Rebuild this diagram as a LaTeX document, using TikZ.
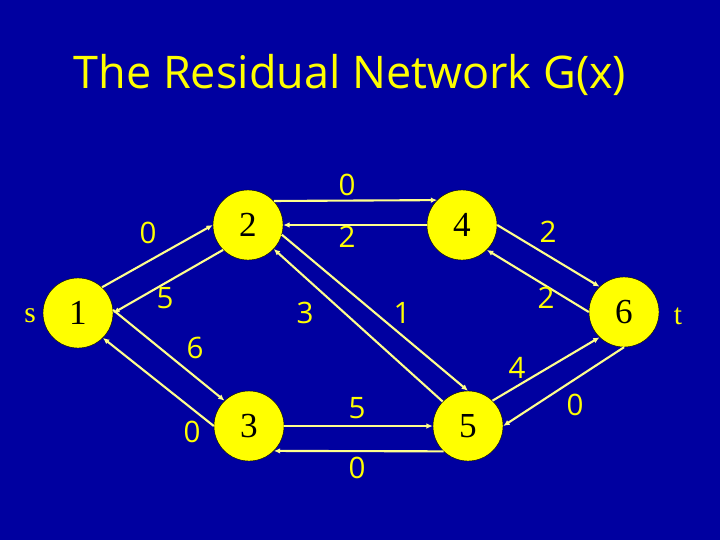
\documentclass[tikz,border=0pt]{standalone}
\usepackage{fontspec}
\setmainfont{Liberation Serif}
\newfontfamily\labelfont{Open Sans}
\usetikzlibrary{arrows.meta}
\definecolor{slideblue}{RGB}{0,0,160}
\definecolor{nodeyellow}{RGB}{255,255,0}
\definecolor{edgeyellow}{RGB}{255,255,140}
\begin{document}
\begin{tikzpicture}[x=0.025cm, y=-0.025cm,
  vertex/.style={circle, fill=nodeyellow, draw=black, line width=0.3pt, minimum size=1.75cm, inner sep=0pt, font=\fontsize{25}{25}\selectfont},
  capval/.style={text=nodeyellow, font=\labelfont\fontsize{21}{21}\selectfont},
  arc/.style={draw=edgeyellow, line width=1.5pt, -{Latex[length=4.5pt,width=4pt]}}]
% background
\fill[slideblue] (0,0) rectangle (720,540);
% title
\node[text=nodeyellow, font=\labelfont\fontsize{32}{32}\selectfont] (title) at (350,75) {The Residual Network G(x)};
% vertices
\node[vertex] (n1) at (78,313) {1};
\node[vertex] (n2) at (248,225) {2};
\node[vertex] (n4) at (462,225) {4};
\node[vertex] (n6) at (624,312) {6};
\node[vertex] (n3) at (249,426) {3};
\node[vertex] (n5) at (468,426) {5};
\node[text=nodeyellow, font=\fontsize{21}{21}\selectfont] (s) at (30,316) {s};
\node[text=nodeyellow, font=\fontsize{21}{21}\selectfont] (t) at (678,316) {t};
% residual arcs
\draw[arc] (n1.47) -- (n2.180);
\draw[arc] (n2.225) -- (n1.0);
\draw[arc] (n1.5) -- (n3.134);
\draw[arc] (n3.180) -- (n1.315);
\draw[arc] (n2.43) -- (n4.135);
\draw[arc] (n4.180) -- (n2.0);
\draw[arc] (n2.344) -- (n5.90);
\draw[arc] (n5.136) -- (n2.317);
\draw[arc] (n4.0) -- (n6.134);
\draw[arc] (n6.180) -- (n4.315);
\draw[arc] (n3.0) -- (n5.180);
\draw[arc] (n5.226) -- (n3.315);
\draw[arc] (n5.46) -- (n6.226);
\draw[arc] (n6.270) -- (n5.0);
% residual capacities
\node[capval] (c12) at (148,233) {0};
\node[capval] (c21) at (165,298) {5};
\node[capval] (c13) at (195,348) {6};
\node[capval] (c31) at (192,432) {0};
\node[capval] (c24) at (347,185) {0};
\node[capval] (c42) at (347,237) {2};
\node[capval] (c52) at (305,313) {3};
\node[capval] (c25) at (402,313) {1};
\node[capval] (c46) at (548,232) {2};
\node[capval] (c64) at (546,298) {2};
\node[capval] (c56) at (517,368) {4};
\node[capval] (c65) at (575,405) {0};
\node[capval] (c35) at (357,408) {5};
\node[capval] (c53) at (357,468) {0};
\end{tikzpicture}
\end{document}
